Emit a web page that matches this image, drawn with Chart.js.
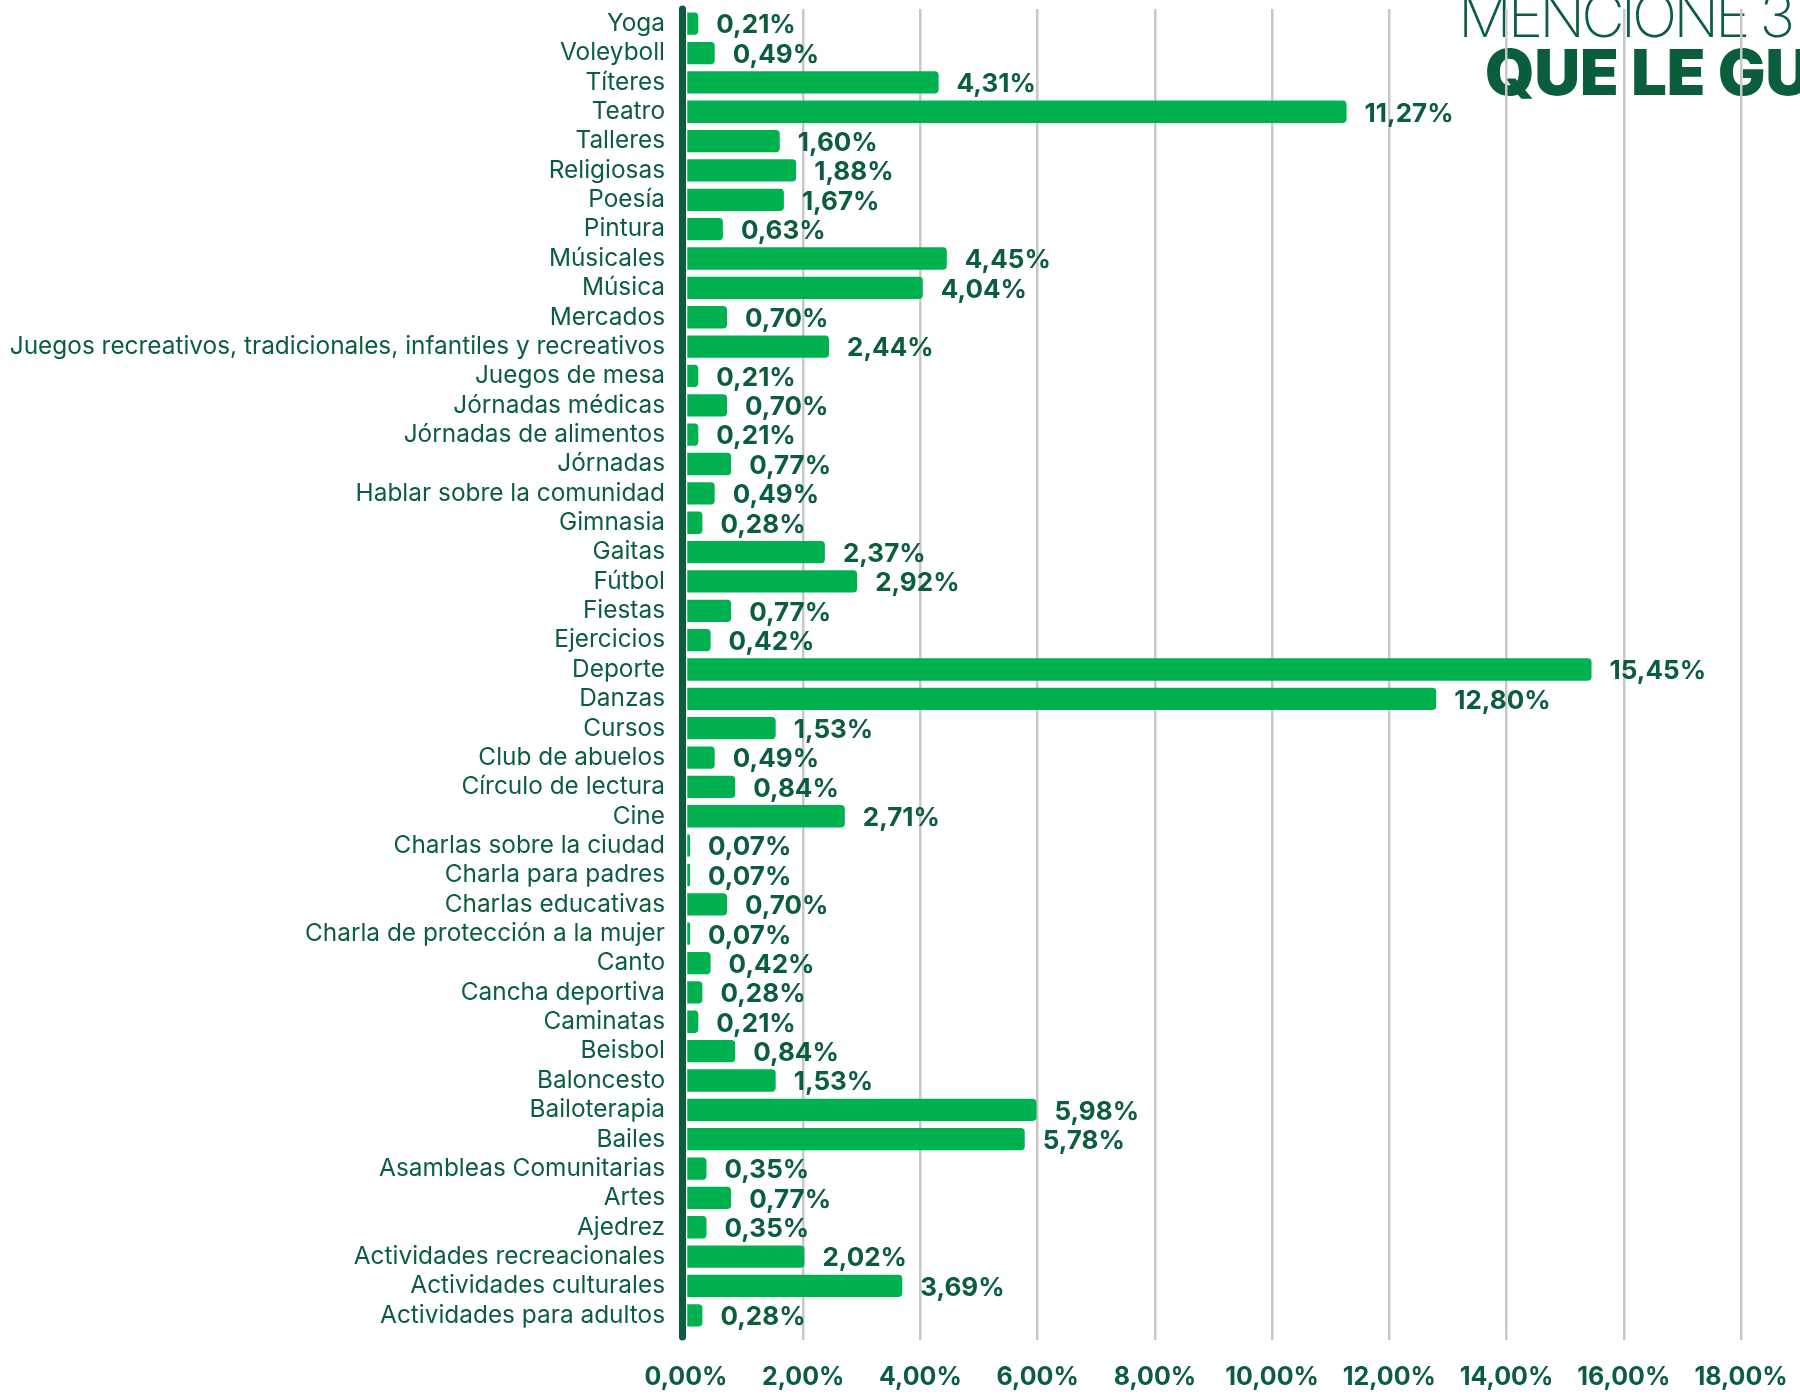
<!DOCTYPE html>
<html>
<head>
<meta charset="utf-8">
<script src="https://cdn.jsdelivr.net/npm/chart.js@4"></script>
<style>
  html, body { margin: 0; padding: 0; background: #ffffff; }
  #wrap { width: 1800px; height: 1394px; position: relative; }
</style>
</head>
<body>
<div id="wrap"><canvas id="actividadesChart" width="1800" height="1394"></canvas></div>
<script>
// actividades mencionadas, de arriba hacia abajo
var categorias = [
    'Yoga', 'Voleyboll', 'Títeres', 'Teatro', 'Talleres', 'Religiosas', 'Poesía', 'Pintura',
    'Músicales', 'Música', 'Mercados',
    'Juegos recreativos, tradicionales, infantiles y recreativos',
    'Juegos de mesa', 'Jórnadas médicas', 'Jórnadas de alimentos', 'Jórnadas',
    'Hablar sobre la comunidad', 'Gimnasia', 'Gaitas', 'Fútbol', 'Fiestas', 'Ejercicios',
    'Deporte', 'Danzas', 'Cursos', 'Club de abuelos', 'Círculo de lectura', 'Cine',
    'Charlas sobre la ciudad', 'Charla para padres', 'Charlas educativas',
    'Charla de protección a la mujer', 'Canto', 'Cancha deportiva', 'Caminatas', 'Beisbol',
    'Baloncesto', 'Bailoterapia', 'Bailes', 'Asambleas Comunitarias', 'Artes', 'Ajedrez',
    'Actividades recreacionales', 'Actividades culturales', 'Actividades para adultos'
];

var porcentajes = [
    0.21, 0.49, 4.31, 11.27, 1.60, 1.88, 1.67, 0.63,
    4.45, 4.04, 0.70,
    2.44,
    0.21, 0.70, 0.21, 0.77,
    0.49, 0.28, 2.37, 2.92, 0.77, 0.42,
    15.45, 12.80, 1.53, 0.49, 0.84, 2.71,
    0.07, 0.07, 0.70,
    0.07, 0.42, 0.28, 0.21, 0.84,
    1.53, 5.98, 5.78, 0.35, 0.77, 0.35,
    2.02, 3.69, 0.28
];

var ticksX = [0, 2, 4, 6, 8, 10, 12, 14, 16, 18];

var tituloLinea1 = 'MENCIONE 3';
var tituloLinea2 = 'QUE LE GU';

var verdeOscuro = '#0b5e3c';
var verdeBarra = '#00b14f';

function formatoPct(v) {
    return v.toFixed(2).replace('.', ',') + '%';
}

// titulo detras de la cuadricula
var titulo = {
    id: 'titulo',
    beforeDraw(chart) {
        var ctx = chart.ctx;
        ctx.save();
        ctx.fillStyle = verdeOscuro;
        ctx.textAlign = 'left';
        ctx.textBaseline = 'alphabetic';
        ctx.font = '200 60px Inter';
        ctx.letterSpacing = '-4px';
        ctx.fillText(tituloLinea1, 1458, 37);
        ctx.letterSpacing = '0px';
        ctx.font = '900 63px Inter';
        ctx.fillText(tituloLinea2, 1485, 95);
        ctx.restore();
    }
};

// linea del eje y etiquetas de valor
var etiquetas = {
    id: 'etiquetas',
    afterDatasetsDraw(chart) {
        var ctx = chart.ctx;
        var area = chart.chartArea;
        ctx.save();
        ctx.strokeStyle = verdeOscuro;
        ctx.lineWidth = 7;
        ctx.lineCap = 'round';
        ctx.beginPath();
        ctx.moveTo(area.left - 3.5, 9);
        ctx.lineTo(area.left - 3.5, 1337);
        ctx.stroke();

        ctx.fillStyle = verdeOscuro;
        ctx.font = '700 26px Inter';
        ctx.textAlign = 'left';
        ctx.textBaseline = 'middle';
        var meta = chart.getDatasetMeta(0);
        meta.data.forEach((bar, i) => {
            ctx.fillText(formatoPct(porcentajes[i]), bar.x + 18, bar.y + 2);
        });
        ctx.restore();
    }
};

var actividadesChart = new Chart('actividadesChart', { //eslint-disable-line
    type: 'bar',
    data: {
        labels: categorias,
        datasets: [{
            data: porcentajes,
            backgroundColor: verdeBarra,
            borderRadius: 4,
            borderSkipped: 'start',
            categoryPercentage: 0.76,
            barPercentage: 1
        }]
    },
    options: {
        indexAxis: 'y',
        responsive: false,
        animation: false,
        devicePixelRatio: 1,
        layout: {
            padding: { top: 9, right: 59, left: 0, bottom: 0 }
        },
        plugins: {
            legend: { display: false },
            tooltip: { enabled: false }
        },
        scales: {
            x: {
                min: 0,
                max: 18,
                afterBuildTicks(scale) {
                    scale.ticks = ticksX.map(v => ({ value: v }));
                },
                afterFit(scale) {
                    scale.height = 64;
                    scale.paddingLeft = 0;
                    scale.paddingRight = 0;
                },
                border: { display: false },
                grid: {
                    color: ctx => ctx.tick && ctx.tick.value === 0 ? 'rgba(0,0,0,0)' : '#c8c8c8',
                    lineWidth: 2.5,
                    drawTicks: true,
                    tickLength: 10,
                    tickColor: ctx => ctx.tick && ctx.tick.value === 0 ? 'rgba(0,0,0,0)' : '#c8c8c8'
                },
                ticks: {
                    padding: 22,
                    color: verdeOscuro,
                    font: { family: 'Inter', size: 25, weight: '700' },
                    callback: v => formatoPct(v)
                }
            },
            y: {
                afterFit(scale) {
                    scale.width = 686;
                    scale.paddingTop = 0;
                    scale.paddingBottom = 0;
                },
                border: { display: false },
                grid: { display: false, drawTicks: false },
                ticks: {
                    padding: 21,
                    autoSkip: false,
                    color: verdeOscuro,
                    font: { family: 'Inter', size: 24.4, weight: '400' }
                }
            }
        }
    },
    plugins: [titulo, etiquetas]
});
</script>
</body>
</html>
